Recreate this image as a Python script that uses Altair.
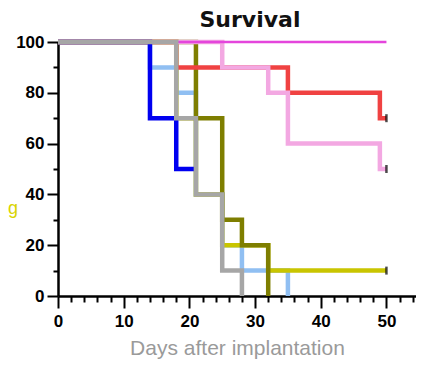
import altair as alt
import pandas as pd

# ---- data (step-function survival curves) ----
lightblue_days = [0, 14, 18, 21, 25, 28, 35]
lightblue_surv = [100, 90, 80, 40, 20, 10, 0]

yellow_days = [0, 18, 21, 25, 32, 50]
yellow_surv = [100, 70, 40, 20, 10, 10]

olive_days = [0, 21, 25, 28, 32]
olive_surv = [100, 70, 30, 20, 0]

red_days = [0, 18, 35, 49, 50]
red_surv = [100, 90, 80, 70, 70]

pink_days = [0, 25, 32, 35, 49, 50]
pink_surv = [100, 90, 80, 60, 50, 50]

magenta_days = [0, 50]
magenta_surv = [100, 100]

blue_days = [0, 14, 18, 21]
blue_surv = [100, 70, 50, 50]

gray_days = [0, 18, 21, 25, 28]
gray_surv = [100, 70, 40, 10, 0]

censor_days = [50, 50, 50]
censor_surv = [70, 50, 10]

x_major = [0, 10, 20, 30, 40, 50]
x_minor = [2, 4, 6, 8, 12, 14, 16, 18, 22, 24, 26, 28, 32, 34, 36, 38, 42, 44, 46, 48, 52, 54]
y_major = [0, 20, 40, 60, 80, 100]
y_minor = [10, 30, 50, 70, 90]

# drawing order bottom -> top
series = [
    ("lightblue", lightblue_days, lightblue_surv, "#90bff2", 4.5),
    ("yellow", yellow_days, yellow_surv, "#c9c500", 4.5),
    ("olive", olive_days, olive_surv, "#7e7e00", 4.5),
    ("red", red_days, red_surv, "#f04242", 4.5),
    ("pink", pink_days, pink_surv, "#f3a8e2", 4.5),
    ("magenta", magenta_days, magenta_surv, "#e445dc", 2.5),
    ("blue", blue_days, blue_surv, "#0000f0", 4.5),
    ("gray", gray_days, gray_surv, "#a6a6a6", 4.5),
]

xscale = alt.Scale(domain=[0, 54.5], nice=False, zero=False)
yscale = alt.Scale(domain=[0, 100], nice=False)

x_axis_major = alt.Axis(
    values=x_major, tickSize=12, labelPadding=5, labelFlush=False, orient="bottom",
    title="Days after implantation", titleColor="#9a9a9a", titleFontSize=21,
    titleFontWeight="normal", titleFont="Liberation Sans", titlePadding=8,
)
y_axis_major = alt.Axis(values=y_major, tickSize=11, labelPadding=3, labelFlush=False,
                        orient="left", title=None)
x_axis_minor = alt.Axis(values=x_minor, tickSize=6, labels=False, domain=False, orient="bottom", title=None)
y_axis_minor = alt.Axis(values=y_minor, tickSize=5, labels=False, domain=False, orient="left", title=None)

layers = []
for i, (name, d, s, col, w) in enumerate(series):
    df = pd.DataFrame({"day": d, "surv": s})
    xa = x_axis_major if i == 0 else None
    ya = y_axis_major if i == 0 else None
    layer = alt.Chart(df).mark_line(
        interpolate="step-after", color=col, strokeWidth=w,
        strokeJoin="miter", strokeCap="butt", clip=False,
    ).encode(
        x=alt.X("day:Q", scale=xscale, axis=xa),
        y=alt.Y("surv:Q", scale=yscale, axis=ya),
    )
    layers.append(layer)

cens_df = pd.DataFrame({"day": censor_days, "surv": censor_surv})
cens = alt.Chart(cens_df).mark_tick(
    orient="vertical", size=8, thickness=2.5, color="black"
).encode(
    x=alt.X("day:Q", scale=xscale, axis=x_axis_minor),
    y=alt.Y("surv:Q", scale=yscale, axis=y_axis_minor),
)
layers.append(cens)

g_df = pd.DataFrame({"t": ["g"]})
gtext = alt.Chart(g_df).mark_text(
    color="#d8d400", fontSize=18, align="left", baseline="alphabetic", font="Liberation Sans"
).encode(text="t:N", x=alt.value(-50), y=alt.value(172))
layers.append(gtext)

chart = alt.layer(*layers).resolve_axis(x="independent", y="independent").properties(
    width=358, height=254,
    title=alt.TitleParams("Survival", font="DejaVu Sans", fontSize=22, fontWeight="bold",
                          color="#111111", anchor="middle", dx=13, offset=1),
    autosize=alt.AutoSizeParams(type="none"),
    padding={"left": 50, "top": 34, "right": 0, "bottom": 66},
).configure_view(stroke=None).configure_axis(
    grid=False, domainColor="black", domainWidth=2.5, tickColor="black", tickWidth=2,
    labelFont="Liberation Sans", labelFontWeight="bold", labelFontSize=17, labelColor="black",
)

chart.save("out.html", embed_options={"renderer": "svg", "actions": False})
